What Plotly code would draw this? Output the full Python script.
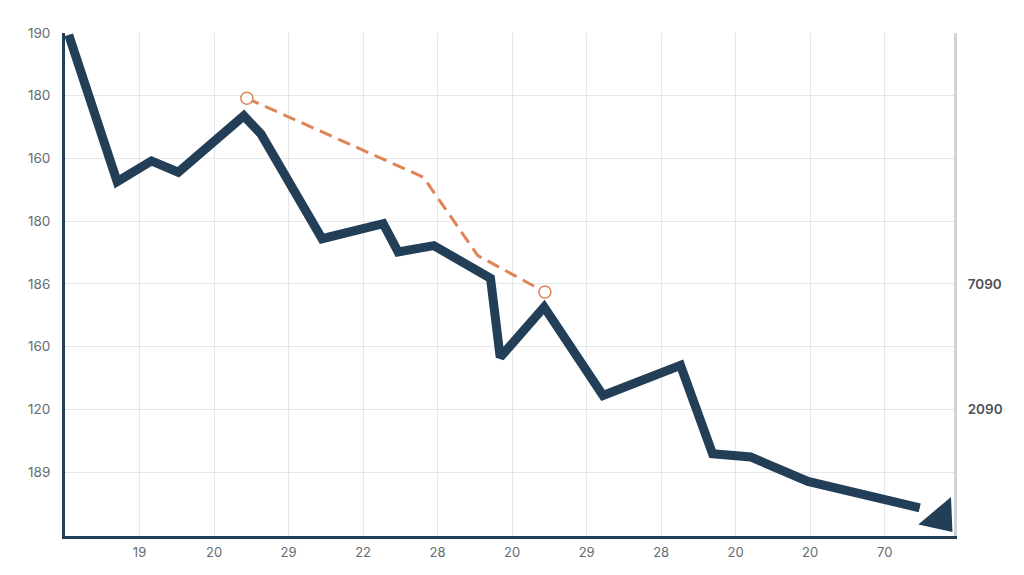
import plotly.graph_objects as go

# ---- data ----
main_x = [0.05, 0.70, 1.16, 1.52, 2.40, 2.63, 3.45, 4.27, 4.47, 4.95, 5.71, 5.84,
          6.43, 7.22, 8.26, 8.69, 9.20, 9.97, 11.47]
main_y = [7.97, 5.63, 5.96, 5.78, 6.68, 6.39, 4.72, 4.96, 4.51, 4.61, 4.09, 2.83,
          3.63, 2.22, 2.70, 1.29, 1.24, 0.85, 0.43]

arrow_x = [11.75]
arrow_y = [0.27]

dash_x = [2.44, 4.81, 5.54, 6.44]
dash_y = [6.96, 5.70, 4.45, 3.87]

x_tickvals = [1, 2, 3, 4, 5, 6, 7, 8, 9, 10, 11]
x_ticktext = ["19", "20", "29", "22", "28", "20", "29", "28", "20", "20", "70"]

y_tickvals = [1, 2, 3, 4, 5, 6, 7, 8]
y_ticktext = ["189", "120", "160", "186", "180", "160", "180", "190"]

y2_tickvals = [2, 4]
y2_ticktext = ["2090", "7090"]

NAVY = "#233f57"
ORANGE = "#df8456"
GRID = "#e4e6e9"
FONT = "Inter"

fig = go.Figure()

fig.add_trace(go.Scatter(
    x=main_x, y=main_y, mode="lines",
    line=dict(color=NAVY, width=9),
    hoverinfo="skip", showlegend=False,
))

fig.add_trace(go.Scatter(
    x=arrow_x, y=arrow_y, mode="markers",
    marker=dict(symbol="triangle-up", size=37, angle=140, color=NAVY,
                line=dict(width=0)),
    cliponaxis=False, hoverinfo="skip", showlegend=False,
))

fig.add_trace(go.Scatter(
    x=dash_x, y=dash_y, mode="lines",
    line=dict(color=ORANGE, width=3, dash="13px,7px"),
    hoverinfo="skip", showlegend=False,
))

fig.add_trace(go.Scatter(
    x=[dash_x[0], dash_x[-1]], y=[dash_y[0], dash_y[-1]], mode="markers",
    marker=dict(symbol="circle", size=12, color="white",
                line=dict(color=ORANGE, width=1.5)),
    cliponaxis=False, hoverinfo="skip", showlegend=False,
))

# invisible trace to activate the right axis
fig.add_trace(go.Scatter(
    x=[0], y=[0], yaxis="y2", mode="markers",
    marker=dict(opacity=0), hoverinfo="skip", showlegend=False,
))

fig.update_layout(
    width=1024, height=575,
    margin=dict(l=65, r=70, t=33, b=39),
    paper_bgcolor="white", plot_bgcolor="white",
    font=dict(family=FONT, size=13, color="#666b71"),
    xaxis=dict(
        range=[0, 11.93], tickvals=x_tickvals, ticktext=x_ticktext,
        showgrid=True, gridcolor=GRID, gridwidth=1, zeroline=False,
        showline=True, linecolor=NAVY, linewidth=3,
        ticks="outside", ticklen=2, tickcolor="rgba(0,0,0,0)",
        tickfont=dict(family=FONT, size=13, color="#666b71"),
    ),
    yaxis=dict(
        range=[-0.02, 8.0], tickvals=y_tickvals, ticktext=y_ticktext,
        showgrid=True, gridcolor=GRID, gridwidth=1, zeroline=False,
        showline=True, linecolor=NAVY, linewidth=3,
        ticks="outside", ticklen=9, tickcolor="rgba(0,0,0,0)",
        tickfont=dict(family=FONT, size=13.5, color="#666b71"),
    ),
    yaxis2=dict(
        overlaying="y", side="right",
        range=[-0.02, 8.0], tickvals=y2_tickvals, ticktext=y2_ticktext,
        showgrid=False, zeroline=False,
        showline=True, linecolor="#cfd3d8", linewidth=3,
        ticks="outside", ticklen=8, tickcolor="rgba(0,0,0,0)",
        tickfont=dict(family=FONT, size=13.5, color="#4d5258", weight=600),
    ),
)

fig.write_html("out.html")
